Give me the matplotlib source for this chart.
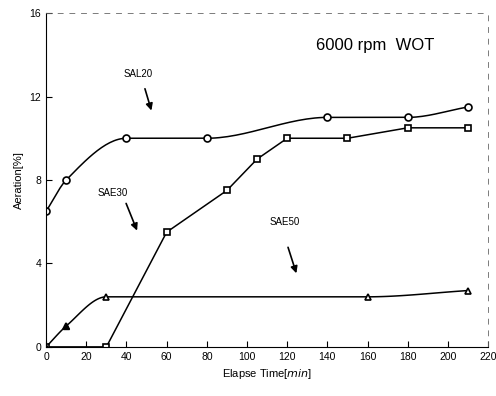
import numpy as np
import matplotlib
matplotlib.use("Agg")
import matplotlib.pyplot as plt

plt.rcParams['font.family'] = ['Liberation Sans', 'DejaVu Sans']

# SAL20 (circles)
sal20_t = [0, 10, 40, 80, 140, 180, 210]
sal20_v = [6.5, 8.0, 10.0, 10.0, 11.0, 11.0, 11.5]

# SAE30 (squares)
sae30_t = [0, 30, 60, 90, 105, 120, 150, 180, 210]
sae30_v = [0.0, 0.0, 5.5, 7.5, 9.0, 10.0, 10.0, 10.5, 10.5]

# SAE50 (triangles)
sae50_t = [0, 10, 30, 160, 210]
sae50_v = [0.0, 1.0, 2.4, 2.4, 2.7]

xticks = [0, 20, 40, 60, 80, 100, 120, 140, 160, 180, 200, 220]
yticks = [0, 4, 8, 12, 16]


def pchip_line(x, y, n=30):
    # monotone cubic (Fritsch-Carlson) curve through the points, for drawing only
    x = np.asarray(x, float)
    y = np.asarray(y, float)
    h = np.diff(x)
    d = np.diff(y) / h
    m = np.zeros_like(y)
    for k in range(1, len(x) - 1):
        if d[k - 1] * d[k] > 0:
            w1 = 2 * h[k] + h[k - 1]
            w2 = h[k] + 2 * h[k - 1]
            m[k] = (w1 + w2) / (w1 / d[k - 1] + w2 / d[k])
    m[0] = d[0]
    m[-1] = d[-1]
    xs, ys = [], []
    for k in range(len(x) - 1):
        t = np.linspace(0, 1, n)
        h00 = 2 * t ** 3 - 3 * t ** 2 + 1
        h10 = t ** 3 - 2 * t ** 2 + t
        h01 = -2 * t ** 3 + 3 * t ** 2
        h11 = t ** 3 - t ** 2
        xs.extend(x[k] + t * h[k])
        ys.extend(h00 * y[k] + h10 * h[k] * m[k] + h01 * y[k + 1]
                  + h11 * h[k] * m[k + 1])
    return np.array(xs), np.array(ys)


fig = plt.figure(figsize=(4.96, 3.96), dpi=100)
ax = fig.add_axes([0.093, 0.124, 0.891, 0.843])

sx, sy = pchip_line(sal20_t, sal20_v)
ax.plot(sx, sy, color='black', lw=1.1)
ax.plot(sae30_t, sae30_v, color='black', lw=1.1)
sx, sy = pchip_line(sae50_t, sae50_v)
ax.plot(sx, sy, color='black', lw=1.1)

ax.plot(sal20_t, sal20_v, linestyle='none', marker='o', ms=5, mfc='white',
        mec='black', mew=1.2)
ax.plot(sae30_t, sae30_v, linestyle='none', marker='s', ms=5, mfc='white',
        mec='black', mew=1.2)
ax.plot(sae50_t, sae50_v, linestyle='none', marker='^', ms=5, mfc='white',
        mec='black', mew=1.2)
# filled triangle at 10 min
ax.plot(sae50_t[1], sae50_v[1], linestyle='none', marker='^', ms=5,
        color='black')

ax.set_xlim(0, 220)
ax.set_ylim(0, 16)
ax.set_xticks(xticks)
ax.set_yticks(yticks)
ax.tick_params(direction='in', labelsize=7.5, length=4, width=0.8)
for s in ['top', 'right']:
    ax.spines[s].set_linestyle((0, (6, 8)))
    ax.spines[s].set_linewidth(0.6)
    ax.spines[s].set_color('0.4')

ax.set_xlabel('Elapse Time[$\\it{min}$]', fontsize=8)
ax.set_ylabel('Aeration[%]', fontsize=8)

ax.text(164, 14.45, '6000 rpm  WOT', fontsize=12, ha='center', va='center')

ax.text(45.8, 13.1, 'SAL20', fontsize=7, ha='center', va='center')
ax.annotate('', xy=(52.8, 11.2), xytext=(48.8, 12.5),
            arrowprops=dict(arrowstyle='-|>', color='black', lw=1.2))
ax.text(32.9, 7.4, 'SAE30', fontsize=7, ha='center', va='center')
ax.annotate('', xy=(45.8, 5.45), xytext=(39.3, 7.0),
            arrowprops=dict(arrowstyle='-|>', color='black', lw=1.2))
ax.text(119, 6.0, 'SAE50', fontsize=7, ha='center', va='center')
ax.annotate('', xy=(125, 3.4), xytext=(120, 4.9),
            arrowprops=dict(arrowstyle='-|>', color='black', lw=1.2))

fig.savefig('out.png', dpi=100)
